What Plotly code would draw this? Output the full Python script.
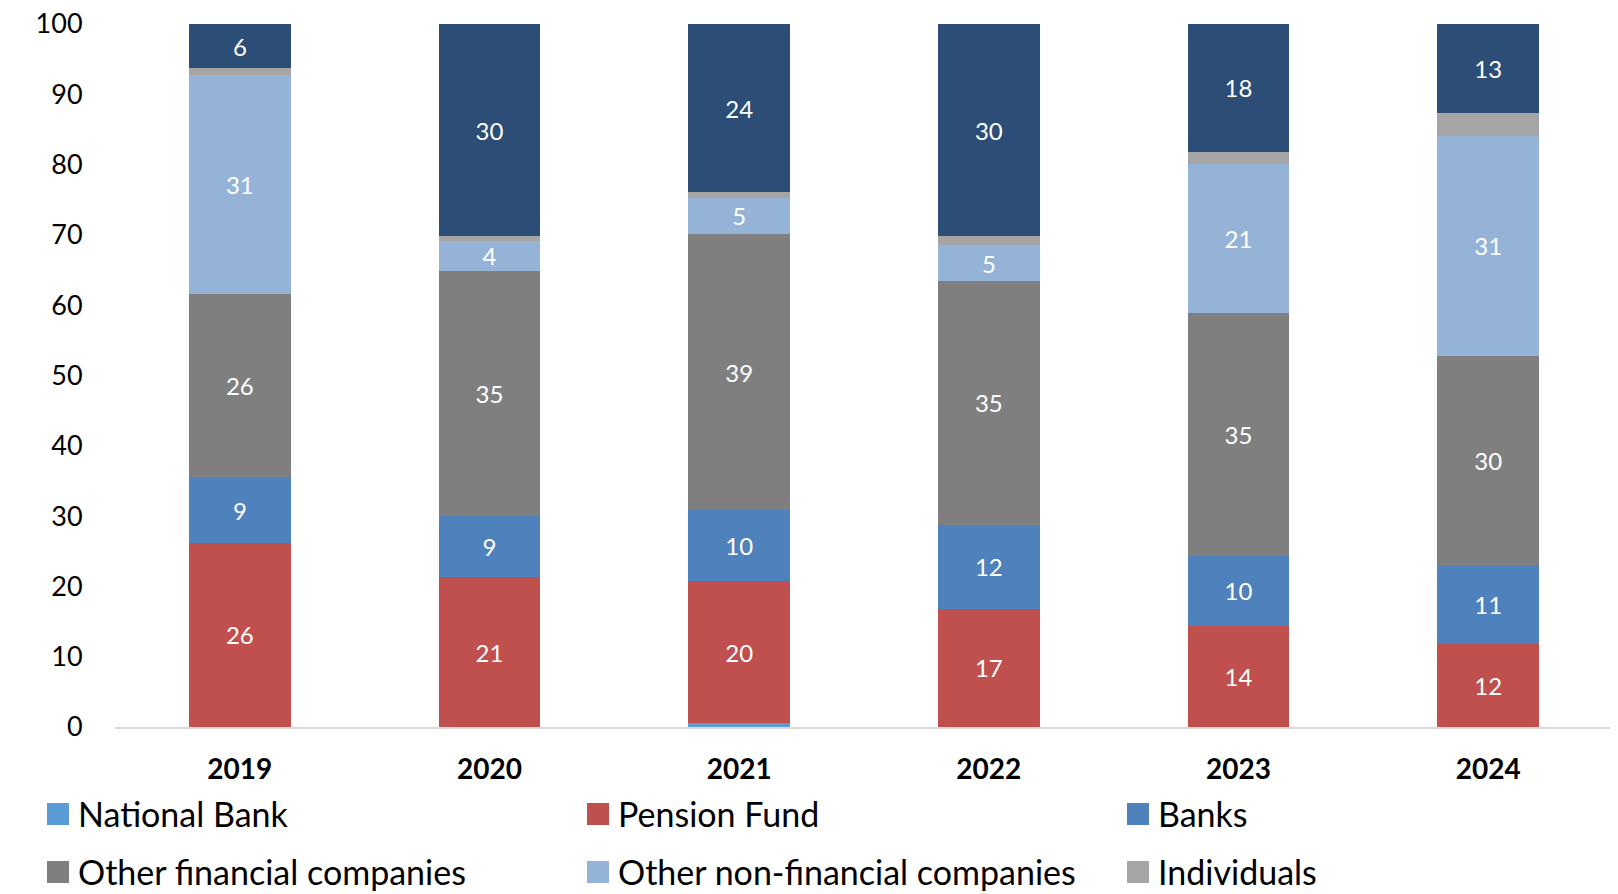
import plotly.graph_objects as go

years = ["2019", "2020", "2021", "2022", "2023", "2024"]

national_bank = [0.0, 0.0, 0.5, 0.0, 0.0, 0.0]
pension_fund = [26.2, 21.3, 20.2, 16.8, 14.4, 11.8]
banks = [9.3, 8.7, 10.1, 12.0, 9.9, 11.3]
other_financial = [26.1, 34.8, 39.3, 34.7, 34.6, 29.7]
other_non_financial = [31.2, 4.4, 5.2, 5.0, 21.2, 31.3]
individuals = [0.9, 0.6, 0.8, 1.3, 1.7, 3.2]
non_residents = [6.3, 30.2, 23.9, 30.2, 18.2, 12.7]

series = [
    ("National Bank", national_bank, "#5b9bd5", False, True),
    ("Pension Fund", pension_fund, "#c0504d", True, True),
    ("Banks", banks, "#4f81bd", True, True),
    ("Other financial companies", other_financial, "#7f7f7f", True, True),
    ("Other non-financial companies", other_non_financial, "#95b3d7", True, True),
    ("Individuals", individuals, "#a5a5a5", False, True),
    ("Non-residents", non_residents, "#2c4d75", True, False),
]

FONT = "Lato"
OFF = 8  # page body margin
W, H = 1610, 886
ML, MR, MT, MB = 107, 5, 16, 167

fig = go.Figure()
for name, vals, color, labelled, inlegend in series:
    fig.add_trace(go.Bar(
        x=years, y=vals, name=name,
        marker=dict(color=color, line=dict(width=0)),
        texttemplate="%{y:.0f}" if labelled else None,
        textposition="inside" if labelled else "none",
        insidetextanchor="middle",
        textangle=0,
        textfont=dict(family=FONT, size=24, color="white"),
        showlegend=False,
    ))

# manual legend (3 columns x 2 rows), positions given in page pixels
pw = W - ML - MR
ph = H - MT - MB
def px_to_paper_x(px):
    return (px - OFF - ML) / pw
def py_to_paper_y(py):
    return (H - MB - (py - OFF)) / ph

legend_items = [s for s in series if s[4]]
col_x = [47, 587, 1127]
row_y = [814, 872]
shapes = []
annotations = []
for i, (name, vals, color, labelled, inlegend) in enumerate(legend_items):
    cx = col_x[i % 3]
    cy = row_y[i // 3]
    shapes.append(dict(
        type="rect", xref="paper", yref="paper",
        x0=px_to_paper_x(cx), x1=px_to_paper_x(cx + 22),
        y0=py_to_paper_y(cy + 11), y1=py_to_paper_y(cy - 11),
        fillcolor=color, line=dict(width=0), layer="above",
    ))
    annotations.append(dict(
        xref="paper", yref="paper",
        x=px_to_paper_x(cx + 29), y=py_to_paper_y(cy),
        xanchor="left", yanchor="middle", showarrow=False,
        text=name, font=dict(family=FONT, size=34, color="black"),
    ))

fig.update_layout(
    width=W, height=H,
    barmode="stack", bargap=0.592,
    margin=dict(l=ML, r=MR, t=MT, b=MB, autoexpand=False),
    paper_bgcolor="white", plot_bgcolor="white",
    font=dict(family=FONT, color="black"),
    showlegend=False,
    shapes=shapes,
    annotations=annotations,
    uniformtext=dict(minsize=24, mode="show"),
)
fig.update_xaxes(
    automargin=False,
    showline=True, linecolor="#d9d9d9", linewidth=2,
    showgrid=False, ticks="outside", ticklen=16, tickcolor="rgba(0,0,0,0)",
    tickfont=dict(family=FONT, size=28, color="black", weight="bold"),
)
fig.update_yaxes(
    automargin=False,
    range=[0, 100], dtick=10, showgrid=False, zeroline=False, showline=False,
    ticks="outside", ticklen=26, tickcolor="rgba(0,0,0,0)",
    ticklabeloverflow="allow",
    tickfont=dict(family=FONT, size=27, color="black"),
)

fig.write_html("out.html")
